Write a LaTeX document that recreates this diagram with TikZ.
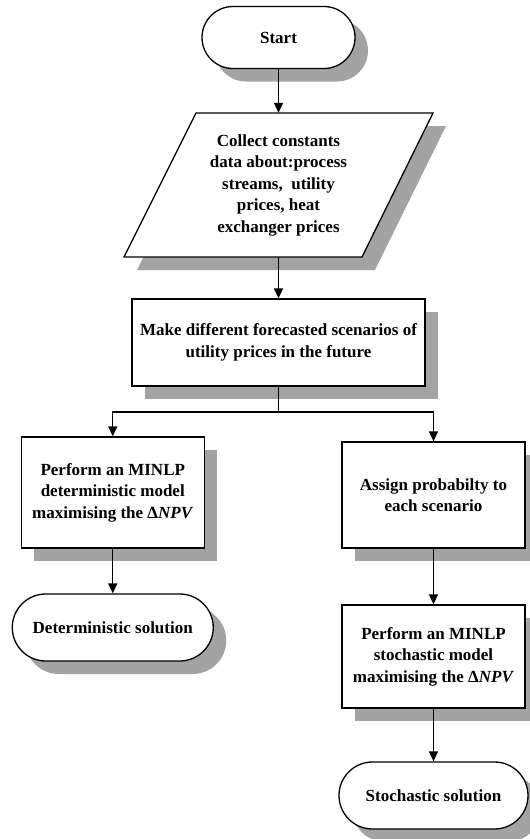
\documentclass[tikz,border=0pt]{standalone}
\usepackage{fontspec}
\setmainfont{Liberation Serif}
\usetikzlibrary{shapes.misc,shadows,arrows.meta}
\definecolor{shadowgray}{RGB}{163,163,163}
\tikzset{
  outline/.style={draw=black, line width=1.3pt, fill=white,
    drop shadow={shadow xshift=13pt, shadow yshift=-13pt, fill=shadowgray, opacity=1}},
  label text/.style={align=center, font=\fontsize{17}{21.5}\selectfont\bfseries},
  terminal/.style={outline, label text, rounded rectangle, inner sep=0pt},
  process/.style={outline, label text, rectangle, inner sep=0pt},
  flow/.style={line width=1.3pt, -{Triangle[width=9pt,length=10pt]}},
  link/.style={line width=1.3pt},
}
\begin{document}
\begin{tikzpicture}[x=1pt,y=-1pt]
\useasboundingbox (0,0) rectangle (530,839);

% start
\node[terminal, minimum width=153pt, minimum height=62pt] (start) at (278.5,37.5) {Start};

% input data (parallelogram)
\path[outline] (196,113) -- (433,113) -- (362,257) -- (124,257) -- cycle;
\node[label text, inner sep=0pt, minimum height=144pt] (collect) at (278.5,185)
  {Collect constants\\data about:process\\streams,\ \ utility\\prices, heat\\exchanger prices};

% scenarios
\node[process, minimum width=293pt, minimum height=87pt] (scen) at (278.5,342.5)
  {Make different forecasted scenarios of\\utility prices in the future};

% deterministic branch
\node[process, minimum width=183pt, minimum height=111pt] (detmodel) at (112.75,492.5)
  {Perform an MINLP\\deterministic model\\maximising the Δ\textit{NPV}};
\node[terminal, minimum width=201pt, minimum height=67pt] (detsol) at (112.75,627.5)
  {Deterministic solution};

% stochastic branch
\node[process, minimum width=183pt, minimum height=106pt] (prob) at (433.5,495)
  {Assign probabilty to\\each scenario};
\node[process, minimum width=183pt, minimum height=103pt] (stomodel) at (433.5,656.5)
  {Perform an MINLP\\stochastic model\\maximising the Δ\textit{NPV}};
\node[terminal, minimum width=189pt, minimum height=67pt] (stosol) at (433.5,795.5)
  {Stochastic solution};

% connectors
\coordinate (split) at (278.5,412);
\draw[flow] (start.south) -- (collect.north);
\draw[flow] (collect.south) -- (scen.north);
\draw[link] (scen.south) -- (split);
\draw[flow] (split) -| (detmodel.north);
\draw[flow] (split) -| (prob.north);
\draw[flow] (detmodel.south) -- (detsol.north);
\draw[flow] (prob.south) -- (stomodel.north);
\draw[flow] (stomodel.south) -- (stosol.north);
\end{tikzpicture}
\end{document}
